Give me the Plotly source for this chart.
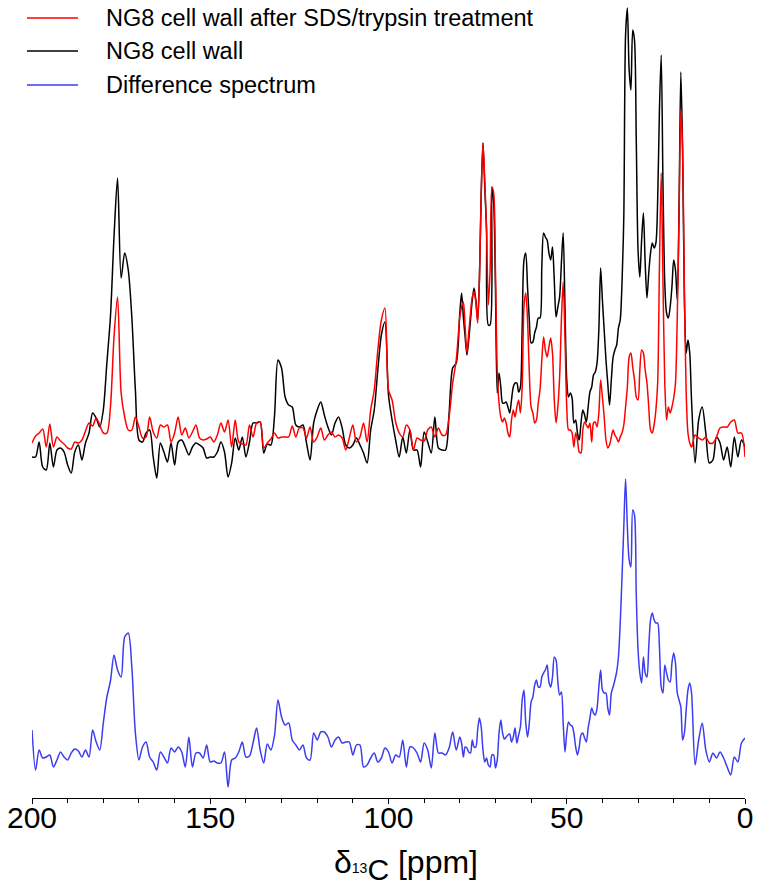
import numpy as np
import plotly.graph_objects as go

# chemical shift grid (ppm): 1 ppm steps outside the crowded 80-15 ppm region, 0.5 ppm inside
ppm = np.concatenate([np.arange(200, 79, -1), np.arange(79.5, 14.9, -0.5), np.arange(14, -1, -1)])

names = ['NG8 cell wall after SDS/trypsin treatment', 'NG8 cell wall', 'Difference spectrum']
colors = ['#ff0000', '#000000', '#3c3cf0']

# intensities (arbitrary units)
treated = [
    -3, 4, 7, 11, -7, 16, -7, 3, -1, -4,            # 200-191
    -8, -9, -2, -3, 0, 9, 17, 14, 22, 15,           # 190-181
    7, 7, 33, 103, 143, 47, 23, 10, 10, 23,         # 180-171
    13, 2, 3, 23, 8, 2, 15, 13, 15, -2,             # 170-161
    7, 23, 5, 12, 2, 8, 15, 2, 0, 1,                # 160-151
    3, -2, 5, 17, 8, 20, -7, 20, -2, -4,            # 150-141
    -5, 15, 3, 17, 18, -8, -3, 1, 7, 2,             # 140-131
    3, 3, 3, 14, 3, 12, 12, 2, 13, -2,              # 130-121
    3, 12, 0, 5, 8, 3, 5, 2, -10, 2,                # 120-111
    15, -2, 3, 17, -2, 30, 50, 90, 120, 132,        # 110-101
    50, 40, 18, 7, 3, 15, 10, -10, 2, 0,            # 100-91
    -1, 10, 13, 3, 12, 5, 5, 23, 57, 80,            # 90-81
    123,                                            # 80
    133, 138, 113, 87, 107, 127, 143, 148, 138, 117,    # 79.5-75
    160, 243, 297, 260, 210, 135, 170, 253, 247, 170,   # 74.5-70
    70, 37, 23, 18, 22, 17, 7, 3, 20, 30,               # 69.5-65
    23, 33, 40, 27, 53, 133, 147, 120, 67, 33,          # 64.5-60
    27, 17, 20, 37, 50, 80, 103, 90, 83, 93,            # 59.5-55
    102, 87, 40, 17, 33, 63, 120, 158, 103, 33,         # 54.5-50
    10, 10, 7, -7, 7, 0, -12, -13, 10, 18,              # 49.5-45
    15, 12, 17, -2, 17, 18, 13, 27, 60, 43,             # 44.5-40
    23, 0, -8, -5, 3, 10, 5, 2, -2, 3,                  # 39.5-35
    7, 15, 33, 53, 83, 87, 73, 60, 43, 40,              # 34.5-30
    70, 90, 87, 70, 57, 33, 10, 7, 15, 30,              # 29.5-25
    57, 173, 267, 157, 57, 20, 33, 27, 33, 42,          # 24.5-20
    57, 123, 223, 330, 290, 150, 47, 7, -3, -7,         # 19.5-15
    5, 2, 0, 3, -3, -3, 3, 12, 13, 13, 18, 20, 7, 7, -17,   # 14-0
]

cell_wall = [
    -17, -17, -2, -27, -30, -3, -27, -10, -8, -12,      # 200-191
    -25, -33, -12, -5, -20, -3, 7, 27, 22, 13,          # 190-181
    30, 77, 123, 203, 262, 162, 187, 170, 123, 50,      # 180-171
    0, -2, 7, 10, -17, -38, -3, -12, -22, -3,           # 170-161
    -25, -2, 0, -7, -15, -7, -3, -5, -8, -18,           # 160-151
    -17, -17, -12, -2, -12, -37, -23, 2, -10, 3,        # 150-141
    -17, -2, 17, 17, 18, -13, -4, -5, 23, 80,           # 140-131
    72, 43, 35, 33, 15, 13, 15, -3, -20, 17,            # 130-121
    30, 38, 25, 13, 5, 17, 23, 12, -5, -8,              # 120-111
    -5, 2, -5, -13, -23, 10, 30, 70, 105, 118,          # 110-101
    45, 20, 0, -17, 3, -13, 10, -10, -10, -27,          # 100-91
    8, -2, -13, 23, -8, -10, -10, 27, 72, 77,           # 90-81
    127,                                                # 80
    147, 123, 103, 85, 100, 120, 140, 152, 140, 120,    # 79.5-75
    160, 247, 297, 253, 210, 115, 115, 253, 237, 153,   # 74.5-70
    47, 67, 53, 37, 37, 38, 33, 27, 40, 53,             # 69.5-65
    57, 57, 48, 53, 113, 180, 187, 153, 120, 97,        # 64.5-60
    98, 107, 113, 122, 122, 173, 207, 203, 200, 187,    # 59.5-55
    180, 193, 160, 123, 133, 143, 177, 207, 133, 60,    # 54.5-50
    43, 47, 42, 17, 20, 7, 0, 17, 30, 25,               # 49.5-45
    18, 33, 48, 53, 65, 68, 77, 110, 172, 140,          # 44.5-40
    110, 80, 57, 35, 60, 83, 90, 95, 112, 120,          # 39.5-35
    157, 223, 405, 432, 370, 350, 410, 400, 300, 190,   # 34.5-30
    163, 200, 227, 177, 142, 167, 187, 197, 192, 197,   # 29.5-25
    240, 330, 385, 253, 157, 127, 122, 133, 153, 180,   # 24.5-20
    170, 140, 233, 368, 290, 140, 87, 100, 87, 40,      # 19.5-15
    -23, 20, 33, 7, -23, -20, 3, -3, -20, -7, -27, 3, -17, 0, -7,   # 14-0
]

difference = [
    15, -25, -5, -13, -12, -10, -22, -15, -7, -12,      # 200-191
    -15, -8, -4, -6, -12, -5, -12, 15, 3, -5,           # 190-181
    22, 48, 64, 90, 75, 68, 108, 112, 78, 12,           # 180-171
    -15, -2, 3, -12, -17, -25, -7, -12, -18, -3,        # 170-161
    -7, -2, -7, -22, 8, -22, -8, -8, -13, 0,            # 160-151
    -17, -16, -18, -18, -7, -42, -15, -13, -7, 3,       # 150-141
    -12, -11, 2, 17, -5, -18, 1, -5, 9, 45,             # 140-131
    28, 20, 22, 5, 0, -5, 0, -13, -15, 12,              # 130-121
    5, 13, 13, 8, -2, 5, 8, 2, 3, 3,                    # 120-111
    -10, 0, 0, -22, -20, -13, -8, -17, -13, -3,         # 110-101
    -7, -18, -10, -12, 5, -22, -2, -3, -8, -17,         # 100-91
    2, -5, -23, 12, -8, -8, -10, -3, 13, -5,            # 90-81
    8,                                                  # 80
    2, -12, -2, -3, -7, -8, 5, -2, -2, 15,              # 79.5-75
    27, 18, -5, -17, -13, -20, -22, -10, -10, -23,      # 74.5-70
    -15, 12, 25, 12, 6, 8, 10, 11, 3, 8,                # 69.5-65
    17, 2, 10, 18, 45, 55, 22, 8, 22, 43,               # 64.5-60
    48, 60, 65, 58, 58, 68, 72, 75, 80, 63,             # 59.5-55
    58, 68, 88, 85, 63, 50, 53, 22, -7, 12,             # 54.5-50
    23, 20, 19, 12, -2, -10, -2, 10, 12, 7,             # 49.5-45
    3, 17, 27, 37, 32, 30, 37, 58, 75, 55,              # 44.5-40
    52, 52, 37, 30, 52, 58, 65, 73, 88, 122,            # 39.5-35
    168, 218, 266, 218, 185, 178, 235, 230, 150, 95,    # 34.5-30
    72, 62, 88, 72, 68, 98, 125, 132, 125, 122,         # 29.5-25
    122, 98, 58, 52, 80, 72, 65, 63, 82, 92,            # 24.5-20
    82, 52, 45, 38, 5, 12, 35, 55, 62, 52,              # 19.5-15
    -20, 5, 22, -5, -17, -8, -13, -7, -13, -22, -30, -12, -17, 2, 7,   # 14-0
]

for s in (treated, cell_wall, difference):
    assert len(s) == len(ppm), (len(s), len(ppm))

# vertical stacking of the two panels
top_offset = 358
bottom_offset = 53

fig = go.Figure()
# black under red, blue separate below
fig.add_trace(go.Scatter(x=ppm, y=np.array(cell_wall) + top_offset, mode='lines', name=names[1],
                         line=dict(color=colors[1], width=1.5, shape='spline', smoothing=0.8)))
fig.add_trace(go.Scatter(x=ppm, y=np.array(treated) + top_offset, mode='lines', name=names[0],
                         line=dict(color=colors[0], width=1.5, shape='spline', smoothing=0.8)))
fig.add_trace(go.Scatter(x=ppm, y=np.array(difference) + bottom_offset, mode='lines', name=names[2],
                         line=dict(color=colors[2], width=1.5, shape='spline', smoothing=0.8)))

# hand-made legend: line sample + label
legend_rows = [0.9774, 0.936, 0.8935]
for name, col, yy in zip(names, colors, legend_rows):
    fig.add_shape(type='line', xref='paper', yref='paper', x0=-0.007, x1=0.0645, y0=yy, y1=yy,
                  line=dict(color=col, width=1.5))
    fig.add_annotation(text=name, xref='paper', yref='paper', x=0.101, y=yy, xanchor='left',
                       yanchor='middle', showarrow=False,
                       font=dict(family='Liberation Sans, Arial', size=23.5, color='black'))

# axis title as annotation so it can sit slightly right of centre like the original
fig.add_annotation(text="δ<span style='font-size:14px'>13</span><sub><span style='font-size:30px'>C</span></sub> [ppm]",
                   xref='paper', yref='paper', x=0.524, y=-0.084, xanchor='center', yanchor='middle',
                   showarrow=False, font=dict(family='Liberation Sans, Arial', size=32, color='black'))

fig.update_layout(
    width=762, height=896,
    margin=dict(l=32, r=17, t=0, b=98),
    plot_bgcolor='white', paper_bgcolor='white',
    showlegend=False,
    font=dict(family='Liberation Sans, Arial', color='black'),
)
fig.update_xaxes(
    range=[200, 0], tickvals=[200, 150, 100, 50, 0],
    ticks='outside', ticklen=5, tickwidth=1, tickcolor='black',
    showline=True, linecolor='black', linewidth=1,
    showgrid=False, zeroline=False,
    minor=dict(dtick=10, ticks='outside', ticklen=4, tickwidth=1, tickcolor='black', showgrid=False),
    tickfont=dict(size=30), ticklabelstandoff=-12,
    automargin=False,
)
fig.update_yaxes(visible=False, range=[0, 798], fixedrange=True)

# drop the default 8px page margin so the figure fills the window exactly
fig.write_html("out.html", config={'displayModeBar': False},
               post_script="document.body.style.margin='0';")
